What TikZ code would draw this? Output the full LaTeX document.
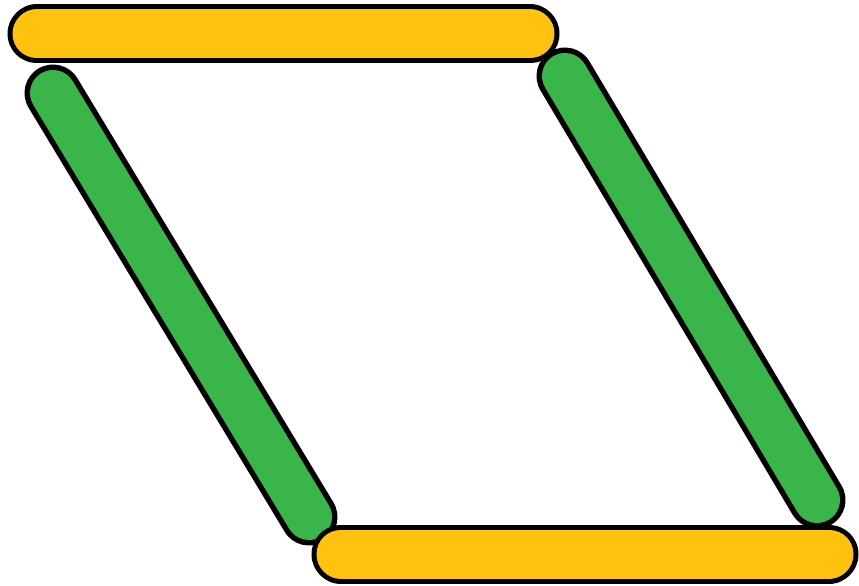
\documentclass[tikz,border=0pt]{standalone}
\definecolor{barYellow}{RGB}{255,194,14}
\definecolor{barGreen}{RGB}{57,181,74}
\tikzset{
  outerbar/.style={draw=black, line width=#1, line cap=round},
  innerbar/.style={line cap=round}
}
\begin{document}
\begin{tikzpicture}[x=1pt,y=-1pt]
\useasboundingbox (0,0) rectangle (859,586);
% green bars
\coordinate (lgA) at (53,93);
\coordinate (lgB) at (309,517);
\coordinate (rgA) at (565,76);
\coordinate (rgB) at (817,500);
\foreach \a/\b in {lgA/lgB, rgA/rgB}{
  \draw[outerbar=57pt] (\a) -- (\b);
  \draw[innerbar, draw=barGreen, line width=46pt] (\a) -- (\b);
}
% yellow bars
\coordinate (tyA) at (37,34);
\coordinate (tyB) at (530,34);
\coordinate (byA) at (341,554);
\coordinate (byB) at (829,554);
\foreach \a/\b in {tyA/tyB, byA/byB}{
  \draw[outerbar=59pt] (\a) -- (\b);
  \draw[innerbar, draw=barYellow, line width=49pt] (\a) -- (\b);
}
\end{tikzpicture}
\end{document}
